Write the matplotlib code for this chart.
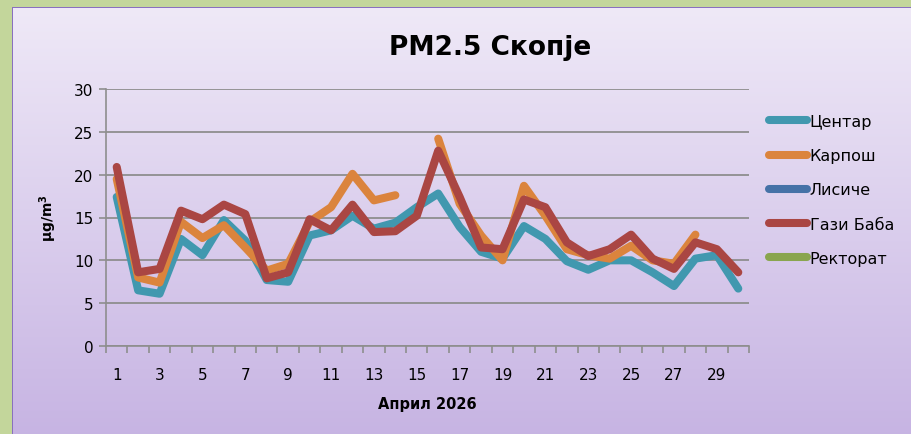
import numpy as np
import matplotlib
matplotlib.use("Agg")
import matplotlib.pyplot as plt

nan = np.nan
days = list(range(1, 31))
tick_labels = [str(d) if d % 2 == 1 else "" for d in days]

centar = [17.4, 6.5, 6.1, 12.5, 10.6, 14.7, 12.3, 7.7, 7.5, 12.9,
          13.5, 15.2, 13.7, 14.4, 16.2, 17.8, 13.9, 11.0, 10.2, 14.0,
          12.5, 9.9, 8.9, 10.0, 10.0, 8.6, 7.0, 10.2, 10.6, 6.7]
karposh = [19.5, 8.0, 7.4, 14.5, 12.6, 14.1, 11.5, 8.8, 9.6, 14.5,
           16.2, 20.1, 17.0, 17.6, nan, 24.2, 16.6, 12.9, 10.0, 18.7,
           15.2, 11.3, 10.6, 10.2, 11.7, 10.0, 9.6, 13.0, nan, nan]
lisiche = [nan] * 30
gazi_baba = [20.9, 8.6, 9.0, 15.8, 14.8, 16.5, 15.4, 7.9, 8.6, 14.8,
             13.5, 16.5, 13.3, 13.4, 15.2, 22.8, 17.4, 11.5, 11.3, 17.1,
             16.2, 12.1, 10.5, 11.3, 13.0, 10.2, 9.0, 12.1, 11.3, 8.6]
rektorat = [nan] * 30

series_names = ["Центар", "Карпош", "Лисиче", "Гази Баба", "Ректорат"]
series_values = [centar, karposh, lisiche, gazi_baba, rektorat]
colors = ["#4198AF", "#DB843D", "#4572A7", "#AA4643", "#89A54E"]

W, H = 912, 435
fig = plt.figure(figsize=(W / 100, H / 100), dpi=100)
fig.patch.set_facecolor("#C3D69B")

# background gradient panel (exact pixels)
ph, pw = H - 8, W - 12
top = np.array([0.937, 0.914, 0.969])
bot = np.array([0.780, 0.706, 0.890])
t = np.linspace(0, 1, ph)[:, None]
grad = top[None, :] * (1 - t) + bot[None, :] * t
img = np.repeat(grad[:, None, :], pw, axis=1)
border = np.array([0.54, 0.44, 0.75])
img[0, :, :] = border
img[:, 0, :] = border
fig.figimage(img, xo=12, yo=0, origin="upper", zorder=-10)

left, right, ytop, ybot = 106, 749, 90, 347
ax = fig.add_axes([left / W, (H - ybot) / H, (right - left) / W, (ybot - ytop) / H])
ax.set_facecolor("none")

x = np.array(days)
for name, vals, c in zip(series_names, series_values, colors):
    ax.plot(x, vals, color=c, lw=5.8, solid_capstyle="round",
            solid_joinstyle="round", label=name)

ax.set_xlim(0.5, 30.5)
ax.set_ylim(0, 30)
ax.set_yticks(range(0, 31, 5))
ax.yaxis.grid(True, color="#8E8E8E", lw=1.3)
ax.set_axisbelow(True)
ax.set_xticks(x)
ax.set_xticklabels(tick_labels)
ax.set_xticks(np.arange(0.5, 31, 1), minor=True)
ax.tick_params(axis="x", which="major", length=0, pad=15, labelsize=11)
ax.tick_params(axis="x", which="minor", length=5, color="#8E8E8E", width=1.2)
ax.tick_params(axis="y", length=5, color="#8E8E8E", width=1.2, labelsize=11, pad=4)
for s in ["top", "right"]:
    ax.spines[s].set_visible(False)
for s in ["left", "bottom"]:
    ax.spines[s].set_color("#8E8E8E")
    ax.spines[s].set_linewidth(1.2)

ax.set_xlabel("Април 2026", fontsize=10.5, fontweight="bold", labelpad=10)
fig.text(48 / W, 1 - 218 / H, "μg/m$^\\mathbf{3}$", rotation=90, fontsize=10,
         fontweight="bold", ha="center", va="center")
fig.text(490 / W, 1 - 48 / H, "PM2.5 Скопје", fontsize=19, fontweight="bold",
         ha="center", va="center")

leg = ax.legend(loc="upper left", bbox_to_anchor=(769 / W, 1 - 115 / H),
                bbox_transform=fig.transFigure, frameon=False, fontsize=11.5,
                handlelength=2.4, handletextpad=0.15, labelspacing=1.2,
                borderaxespad=0, borderpad=0)

fig.savefig("out.png", dpi=100, facecolor=fig.get_facecolor())
